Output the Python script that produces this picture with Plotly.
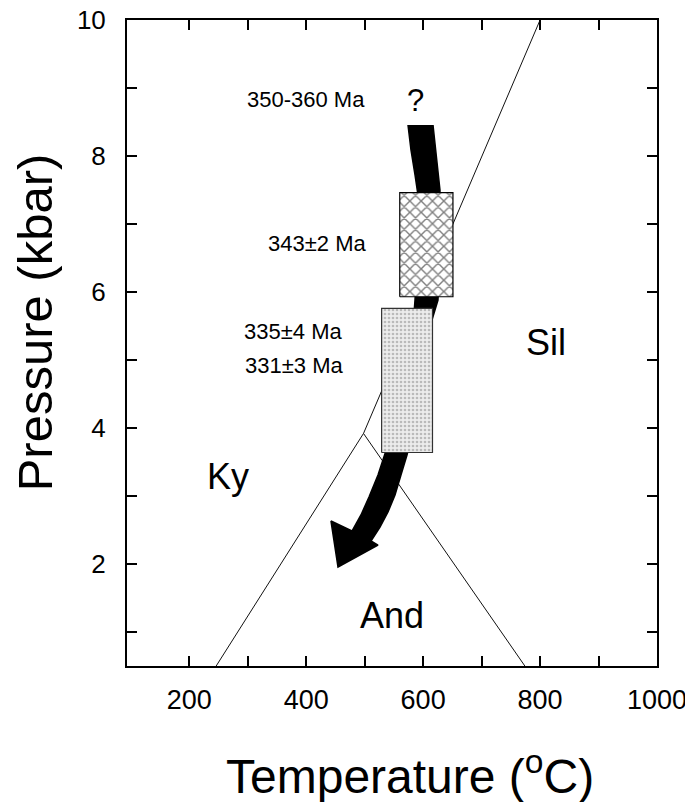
import plotly.graph_objects as go

# ---------------- data ----------------
# phase boundaries (T in degC, P in kbar)
ky_and_T = [246, 498]
ky_and_P = [0.5, 3.92]
and_sil_T = [498, 774]
and_sil_P = [3.92, 0.5]
ky_sil_T = [498, 800]
ky_sil_P = [3.92, 10.0]

# age boxes
hatch_T = [560, 651]
hatch_P = [5.93, 7.46]
stip_T = [529, 616]
stip_P = [3.64, 5.76]

# P-T path arrow outline
arrow_T = [574.1, 579.2, 586.1, 591.2, 592.9, 589.5, 586.1, 581.0, 570.7, 553.6,
           536.5, 522.8, 507.4, 493.7, 478.3, 442.4, 454.4, 522.8, 510.8, 526.2,
           539.9, 551.9, 562.1, 572.4, 582.6, 594.6, 608.3, 615.1, 625.4, 628.8,
           628.8, 623.7, 616.9]
arrow_P = [8.456, 8.088, 7.721, 7.426, 6.912, 6.324, 5.882, 5.294, 4.706, 4.118,
           3.676, 3.309, 2.985, 2.721, 2.485, 2.632, 1.956, 2.279, 2.338, 2.544,
           2.765, 3.015, 3.309, 3.603, 3.971, 4.412, 5.000, 5.588, 5.882, 6.618,
           7.500, 7.941, 8.456]

# labels
age_texts = ["350-360 Ma", "343\u00b12 Ma", "335\u00b14 Ma", "331\u00b13 Ma"]
age_T = [400, 418, 377, 379]
age_P = [8.83, 6.72, 5.42, 4.92]
phase_texts = ["Sil", "Ky", "And"]
phase_T = [810, 266, 546]
phase_P = [5.26, 3.29, 1.24]
q_text = "?"
q_T = 587
q_P = 8.82

x_tickvals = [200, 300, 400, 500, 600, 700, 800, 900, 1000]
x_ticktext = ["200", "", "400", "", "600", "", "800", "", "1000"]
y_tickvals = [1, 2, 3, 4, 5, 6, 7, 8, 9, 10]
y_ticktext = ["", "2", "", "4", "", "6", "", "8", "", "10"]

x_title = "Temperature (<sup>o</sup>C)"
y_title = "Pressure (kbar)"

FONT = "Liberation Sans, Arial, sans-serif"

fig = go.Figure()

for T, P in [(ky_and_T, ky_and_P), (and_sil_T, and_sil_P), (ky_sil_T, ky_sil_P)]:
    fig.add_trace(go.Scatter(x=T, y=P, mode="lines",
                             line=dict(color="#111111", width=1), hoverinfo="skip"))

fig.add_trace(go.Scatter(x=arrow_T, y=arrow_P, mode="lines", fill="toself",
                         fillcolor="black", line=dict(color="black", width=1.5),
                         hoverinfo="skip"))

def box(T, P):
    return [T[0], T[1], T[1], T[0], T[0]], [P[0], P[0], P[1], P[1], P[0]]

hx, hy = box(hatch_T, hatch_P)
fig.add_trace(go.Scatter(x=hx, y=hy, mode="lines", fill="toself",
                         fillcolor="white",
                         fillpattern=dict(shape="x", bgcolor="white", fgcolor="black",
                                          size=8, solidity=0.32),
                         line=dict(color="black", width=1.2), hoverinfo="skip"))
sx, sy = box(stip_T, stip_P)
fig.add_trace(go.Scatter(x=sx, y=sy, mode="lines", fill="toself",
                         fillcolor="#e4e4e4",
                         fillpattern=dict(shape=".", bgcolor="#ececec", fgcolor="#888888",
                                          size=4, solidity=0.35),
                         line=dict(color="#333333", width=1.2), hoverinfo="skip"))

for t, T, P in zip(age_texts, age_T, age_P):
    fig.add_annotation(x=T, y=P, text=t, showarrow=False,
                       font=dict(family=FONT, size=22, color="black"))
for t, T, P in zip(phase_texts, phase_T, phase_P):
    fig.add_annotation(x=T, y=P, text=t, showarrow=False,
                       font=dict(family=FONT, size=36, color="black"))
fig.add_annotation(x=q_T, y=q_P, text=q_text, showarrow=False,
                   font=dict(family=FONT, size=31, color="black"))

# axis titles
fig.add_annotation(xref="paper", yref="paper", x=0.534, y=-0.166, text=x_title,
                   showarrow=False, xanchor="center", yanchor="middle",
                   font=dict(family=FONT, size=48, color="black"))
fig.add_annotation(xref="paper", yref="paper", x=-0.173, y=0.5325, text=y_title,
                   showarrow=False, xanchor="center", yanchor="middle", textangle=-90,
                   font=dict(family=FONT, size=49, color="black"))

axis_common = dict(showline=True, linecolor="black", linewidth=2, mirror="ticks",
                   ticks="inside", ticklen=10, tickwidth=1.6, tickcolor="black",
                   showgrid=False, zeroline=False, ticklabeloverflow="allow",
                   automargin=False)

fig.update_xaxes(range=[93.5, 1000], tickvals=x_tickvals, ticktext=x_ticktext,
                 ticklabelstandoff=9, tickfont=dict(family=FONT, size=27, color="black"),
                 **axis_common)
fig.update_yaxes(range=[0.5, 10], tickvals=y_tickvals, ticktext=y_ticktext,
                 ticklabelstandoff=14, tickfont=dict(family=FONT, size=26, color="black"),
                 **axis_common)

fig.update_layout(width=685, height=794, showlegend=False,
                  margin=dict(l=119, r=36, t=12, b=136, autoexpand=False),
                  plot_bgcolor="white", paper_bgcolor="white")

fig.write_html("out.html")
